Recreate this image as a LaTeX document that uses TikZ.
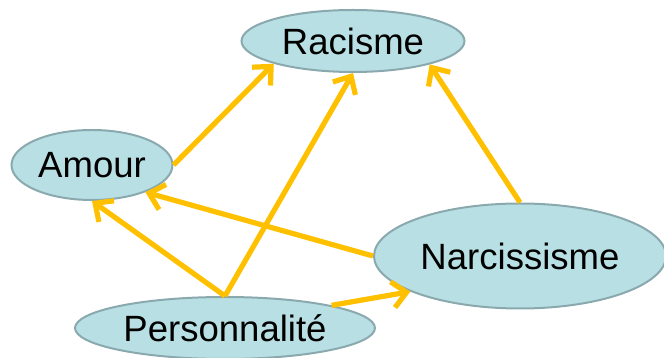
\documentclass[tikz,border=0pt]{standalone}
\usepackage{fontspec}
\setmainfont{Liberation Sans}
\usetikzlibrary{arrows.meta, shapes.geometric}
\definecolor{ConceptBlue}{HTML}{B8DFE3}
\definecolor{ConceptEdge}{HTML}{8AA9AE}
\definecolor{LinkOrange}{HTML}{FFC000}
\colorlet{conceptfill}{ConceptBlue}

\tikzset{
  concept/.style = {draw = ConceptEdge, fill = conceptfill, ellipse, line width = 0.5mm, inner sep = 0pt, text = black, font = \fontsize{26}{30}\selectfont},
  influence/.style = {draw = LinkOrange, line width = 1.3mm, -{Straight Barb[length=3.5mm, width=6.5mm]}}
}

\begin{document}
\begin{tikzpicture}
      \useasboundingbox (0,0) rectangle (16.6,8.95);
      \node[concept, minimum width = 5.575cm, minimum height = 1.55cm] at (8.825, 7.925) (racisme) {Racisme};
      \node[concept, minimum width = 4.025cm, minimum height = 1.75cm] at (2.3, 4.825) (amour) {Amour};
      \node[concept, minimum width = 7.3cm, minimum height = 2.625cm] at (13.0, 2.55) (narcissisme) {Narcissisme};
      \node[concept, minimum width = 7.5cm, minimum height = 1.55cm] at (5.625, 0.75) (personnalite) {Personnalité};

      % arrows
      \draw[influence] (amour.east) -- (racisme.196);
      \draw[influence] (personnalite.north) -- (racisme.south);
      \draw[influence] (narcissisme.north) -- (racisme.-17);
      \draw[influence] (narcissisme.west) -- (amour.-27);
      \draw[influence] (personnalite.north) -- (amour.south);
      \draw[influence] (personnalite.12) -- (narcissisme.198);
    \end{tikzpicture}
\end{document}
